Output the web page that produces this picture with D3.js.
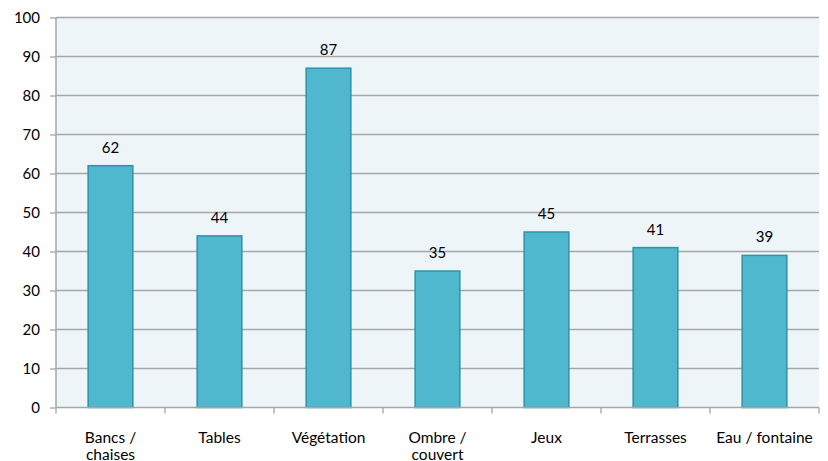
<!DOCTYPE html>
<html>
<head>
<meta charset="utf-8">
<script src="https://cdn.jsdelivr.net/npm/d3@7"></script>
<style>
  body { margin: 0; background: #fff; }
  svg text { font-family: Lato, "Open Sans", sans-serif; fill: #000; }
</style>
</head>
<body>
<svg id="chart" width="828" height="461"></svg>
<script>
// Data
const categories = ['Bancs / chaises', 'Tables', 'Végétation', 'Ombre / couvert', 'Jeux', 'Terrasses', 'Eau / fontaine'];
const labelLines = [['Bancs /', 'chaises'], ['Tables'], ['Végétation'], ['Ombre /', 'couvert'], ['Jeux'], ['Terrasses'], ['Eau / fontaine']];
const values = [62, 44, 87, 35, 45, 41, 39];
const yTicks = [0, 10, 20, 30, 40, 50, 60, 70, 80, 90, 100];

const margin = { top: 17.5, right: 9, bottom: 53.5, left: 56 };
const width = 828, height = 461;
const innerW = width - margin.left - margin.right;
const innerH = height - margin.top - margin.bottom;

const svg = d3.select('#chart');
const g = svg.append('g').attr('transform', `translate(${margin.left},${margin.top})`);

const x = d3.scaleBand().domain(categories).range([0, innerW]).paddingInner(0.59).paddingOuter(0.295);
const y = d3.scaleLinear().domain([0, 100]).range([innerH, 0]);

// plot background
g.append('rect')
    .attr('width', innerW)
    .attr('height', innerH)
    .attr('fill', '#EDF5F8');

// gridlines
g.selectAll('.grid')
    .data(yTicks.filter(d => d > 0))
    .enter()
    .append('line')
    .attr('x1', 0)
    .attr('x2', innerW)
    .attr('y1', d => y(d))
    .attr('y2', d => y(d))
    .attr('stroke', '#A6A6A6')
    .attr('stroke-width', 1.3);

// bars
g.selectAll('.bar')
    .data(values)
    .enter()
    .append('rect')
    .attr('x', (d, i) => x(categories[i]))
    .attr('y', d => y(d))
    .attr('width', x.bandwidth())
    .attr('height', d => innerH - y(d))
    .attr('fill', '#4FB8CE')
    .attr('stroke', '#2E93A8')
    .attr('stroke-width', 1.5);

// value labels
g.selectAll('.val')
    .data(values)
    .enter()
    .append('text')
    .attr('x', (d, i) => x(categories[i]) + x.bandwidth() / 2)
    .attr('y', d => y(d) - 13)
    .attr('text-anchor', 'middle')
    .style('font-size', '15px')
    .text(d => d);

// y axis
const yAxis = g.append('g')
    .call(d3.axisLeft(y).tickValues(yTicks).tickSize(6).tickPadding(10));
yAxis.select('.domain').attr('stroke', '#A6A6A6').attr('stroke-width', 1.5).attr('d', `M0,${innerH}V0`);
yAxis.selectAll('.tick line').attr('stroke', '#A6A6A6').attr('stroke-width', 1.3);
yAxis.selectAll('.tick text').style('font-size', '15px').attr('fill', '#000');

// x axis: ticks at category boundaries
const boundaries = d3.range(categories.length + 1).map(i => i * innerW / categories.length);
const xAxisG = g.append('g').attr('transform', `translate(0,${innerH})`);
xAxisG.append('line')
    .attr('x1', 0).attr('x2', innerW)
    .attr('stroke', '#A6A6A6').attr('stroke-width', 1.5);
xAxisG.selectAll('.xtick')
    .data(boundaries)
    .enter()
    .append('line')
    .attr('x1', d => d).attr('x2', d => d)
    .attr('y1', 0).attr('y2', 6)
    .attr('stroke', '#A6A6A6').attr('stroke-width', 1.3);

const xl = xAxisG.selectAll('.xlab')
    .data(labelLines)
    .enter()
    .append('text')
    .attr('text-anchor', 'middle')
    .attr('transform', (d, i) => `translate(${x(categories[i]) + x.bandwidth() / 2},0)`)
    .style('font-size', '15.5px');
xl.selectAll('tspan')
    .data(d => d)
    .enter()
    .append('tspan')
    .attr('x', 0)
    .attr('y', (d, i) => 35 + i * 17)
    .text(d => d);
</script>
</body>
</html>
